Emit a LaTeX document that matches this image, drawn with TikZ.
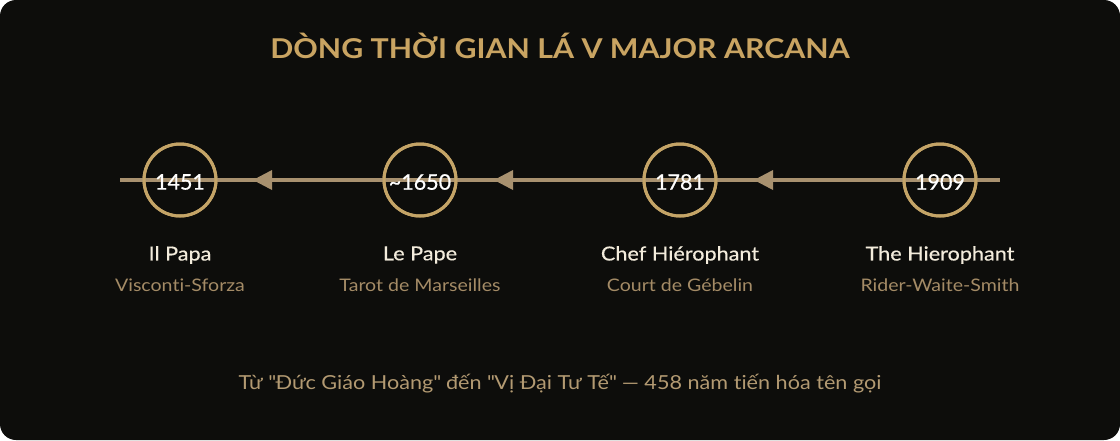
\documentclass[tikz,border=0pt]{standalone}
\usepackage{fontspec}
\setmainfont{Lato}[Ligatures=NoCommon]
\newfontfamily\titlefont{Lato}[FakeStretch=1.11,Ligatures=NoCommon]
\newfontfamily\yearfont{Lato}[FakeBold=0.5]
\newfontfamily\namefont{Lato}[FakeBold=0.5,FakeStretch=1.12,Ligatures=NoCommon]
\newfontfamily\subfont{Lato}[FakeStretch=1.13,Ligatures=NoCommon]
\newfontfamily\capfont{Lato}[FakeStretch=1.12,Ligatures=NoCommon]
\usetikzlibrary{calc}
\definecolor{bgc}{HTML}{0D0D0B}
\definecolor{titlec}{HTML}{C9A462}
\definecolor{circc}{HTML}{C4A467}
\definecolor{linec}{HTML}{A8916F}
\definecolor{namec}{HTML}{F3ECDC}
\definecolor{subc}{HTML}{A48B66}
\definecolor{capc}{HTML}{B39A72}
\tikzset{
  tl/.style={draw=linec, line width=4pt},
  yearcirc/.style={circle, draw=circc, line width=3pt, minimum size=72pt, inner sep=0pt},
  yeartext/.style={text=white, font=\yearfont\fontsize{21.5}{24}\selectfont},
  nametext/.style={text=namec, font=\namefont\fontsize{19.3}{22}\selectfont},
  subtext/.style={text=subc, font=\subfont\fontsize{17.3}{20}\selectfont},
  tip/.style={fill=linec},
}
\begin{document}
\begin{tikzpicture}[x=1pt,y=-1pt]
\useasboundingbox (0,0) rectangle (1120,440);
\fill[white] (0,0) rectangle (1120,440);
\fill[bgc, rounded corners=16pt] (0,0) rectangle (1120,440);
\node[text=titlec, font=\titlefont\bfseries\fontsize{27.3}{32}\selectfont] (title) at (560,46) {DÒNG THỜI GIAN LÁ V MAJOR ARCANA};
\coordinate (L) at (120,180);
\coordinate (R) at (1000,180);
\node[yearcirc] (c1) at (180,180) {};
\node[yearcirc] (c2) at (420,180) {};
\node[yearcirc] (c3) at (680,180) {};
\node[yearcirc] (c4) at (940,180) {};
\draw[tl] (R) -- (c4.center) -- (c3.center) -- (c2.center) -- (c1.center) -- (L);
\fill[tip] ($(c1.center)+(73,0)$) -- ++(19,-10) -- ++(0,20) -- cycle;
\fill[tip] ($(c2.center)+(74,0)$) -- ++(19,-10) -- ++(0,20) -- cycle;
\fill[tip] ($(c3.center)+(74,0)$) -- ++(19,-10) -- ++(0,20) -- cycle;
\draw[circc, line width=3pt] (c1.center) circle (36pt) (c2.center) circle (36pt) (c3.center) circle (36pt) (c4.center) circle (36pt);
\node[yeartext] (y1) at (180,182) {1451};
\node[yeartext] (y2) at (420,182) {\textasciitilde1650};
\node[yeartext] (y3) at (680,182) {1781};
\node[yeartext] (y4) at (940,182) {1909};
\node[nametext] (n1) at (180,255) {Il Papa};
\node[nametext] (n2) at (420,255) {Le Pape};
\node[nametext] (n3) at (680,255) {Chef Hiérophant};
\node[nametext] (n4) at (940,255) {The Hierophant};
\node[subtext] (s1) at (180,285) {Visconti-Sforza};
\node[subtext] (s2) at (420,285) {Tarot de Marseilles};
\node[subtext] (s3) at (680,285) {Court de Gébelin};
\node[subtext] (s4) at (940,285) {Rider-Waite-Smith};
\node[text=capc, font=\capfont\fontsize{19.3}{22}\selectfont] (cap) at (560,384) {Từ \textquotedbl Đức Giáo Hoàng\textquotedbl{} đến \textquotedbl Vị Đại Tư Tế\textquotedbl{} — 458 năm tiến hóa tên gọi};
\end{tikzpicture}
\end{document}
